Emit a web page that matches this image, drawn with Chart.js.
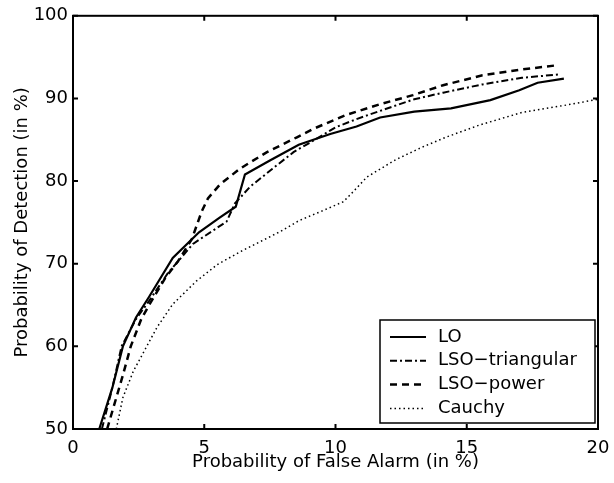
<!DOCTYPE html>
<html>
<head>
<meta charset="utf-8">
<script src="https://cdn.jsdelivr.net/npm/chart.js@4.4.0/dist/chart.umd.min.js"></script>
<style>
  html, body { margin: 0; padding: 0; background: #fff; }
  #wrap { width: 614px; height: 483px; }
</style>
</head>
<body>
<div id="wrap"><canvas id="roc" width="614" height="483"></canvas></div>
<script>
// ROC curves: detection vs false alarm (both in %)
const xTicks = [0, 5, 10, 15, 20];
const yTicks = [50, 60, 70, 80, 90, 100];
const seriesNames = ['LO', 'LSO\u2212triangular', 'LSO\u2212power', 'Cauchy'];

const loX = [1.0, 1.5, 1.9, 2.4, 2.9, 3.8, 4.8, 5.6, 6.2, 6.55, 7.5, 8.6, 9.8, 10.8, 11.7, 13.0, 14.4, 15.9, 17.0, 17.7, 18.7];
const loY = [50, 55, 60, 63.5, 66, 70.7, 73.8, 75.6, 76.9, 80.8, 82.5, 84.4, 85.7, 86.6, 87.7, 88.4, 88.8, 89.8, 91.0, 91.9, 92.4];

const triX = [1.1, 1.5, 1.85, 2.4, 2.9, 3.6, 4.57, 5.85, 6.17, 6.74, 7.6, 8.4, 9.0, 10.0, 10.8, 11.7, 13.0, 14.1, 15.6, 17.1, 18.5];
const triY = [50, 55, 60, 63.3, 65.5, 68.8, 72.4, 75.1, 77.3, 79.3, 81.5, 83.5, 84.6, 86.5, 87.5, 88.5, 89.9, 90.7, 91.7, 92.5, 92.9];

const powX = [1.3, 1.9, 2.2, 2.6, 2.9, 3.5, 4.0, 4.53, 4.9, 5.14, 5.6, 6.36, 7.39, 8.53, 9.14, 10.4, 11.7, 12.95, 14.1, 15.6, 17.1, 18.4];
const powY = [50, 56.5, 60, 63.3, 65, 68.2, 70.3, 73.0, 76.3, 77.9, 79.6, 81.5, 83.5, 85.3, 86.3, 88.0, 89.3, 90.4, 91.6, 92.8, 93.5, 94.0];

const cauX = [1.65, 1.9, 2.3, 3.2, 3.8, 4.7, 5.5, 6.4, 7.9, 8.6, 9.5, 10.3, 10.7, 11.2, 12.3, 13.3, 14.2, 15.5, 17.1, 18.8, 20];
const cauY = [50, 53.8, 57, 62.3, 65.1, 67.9, 69.9, 71.5, 73.9, 75.2, 76.4, 77.5, 78.8, 80.5, 82.6, 84.1, 85.3, 86.8, 88.3, 89.2, 89.9];

const FONT = '"DejaVu Sans", Verdana, sans-serif';

function pts(xs, ys) {
  return xs.map((x, i) => ({ x: x, y: ys[i] }));
}

// matlab style box with inward ticks on all four sides
const boxPlugin = {
  id: 'box',
  afterDatasetsDraw(chart) {
    const { ctx, chartArea: a, scales } = chart;
    ctx.save();
    ctx.strokeStyle = '#000';
    ctx.lineWidth = 2;
    ctx.strokeRect(a.left, a.top, a.right - a.left, a.bottom - a.top);
    const len = 5;
    ctx.beginPath();
    xTicks.forEach(v => {
      const px = scales.x.getPixelForValue(v);
      ctx.moveTo(px, a.bottom); ctx.lineTo(px, a.bottom - len);
      ctx.moveTo(px, a.top); ctx.lineTo(px, a.top + len);
    });
    yTicks.forEach(v => {
      const py = scales.y.getPixelForValue(v);
      ctx.moveTo(a.left, py); ctx.lineTo(a.left + len, py);
      ctx.moveTo(a.right, py); ctx.lineTo(a.right - len, py);
    });
    ctx.stroke();
    ctx.restore();
  }
};

// legend box in the lower right corner of the axes
const legendPlugin = {
  id: 'boxLegend',
  afterDraw(chart) {
    const { ctx, chartArea: a } = chart;
    const w = 215, h = 103;
    const left = a.right - 218, top = a.bottom - 109;
    ctx.save();
    ctx.fillStyle = '#fff';
    ctx.fillRect(left, top, w, h);
    ctx.strokeStyle = '#000';
    ctx.lineWidth = 1.5;
    ctx.setLineDash([]);
    ctx.strokeRect(left, top, w, h);
    ctx.font = '18px ' + FONT;
    ctx.textBaseline = 'middle';
    ctx.fillStyle = '#000';
    chart.data.datasets.forEach((ds, i) => {
      const y = top + 17 + i * 23.8;
      ctx.beginPath();
      ctx.lineWidth = ds.borderWidth;
      ctx.setLineDash(ds.borderDash || []);
      ctx.moveTo(left + 10, y);
      ctx.lineTo(left + 46, y);
      ctx.stroke();
      ctx.setLineDash([]);
      ctx.fillText(ds.label, left + 58, y);
    });
    ctx.restore();
  }
};

const datasets = [
  { label: seriesNames[0], data: pts(loX, loY), borderWidth: 2.2, borderDash: [] },
  { label: seriesNames[1], data: pts(triX, triY), borderWidth: 2, borderDash: [7, 3, 2, 3] },
  { label: seriesNames[2], data: pts(powX, powY), borderWidth: 2.5, borderDash: [7, 5] },
  { label: seriesNames[3], data: pts(cauX, cauY), borderWidth: 1.5, borderDash: [1.5, 3] }
].map(d => Object.assign(d, {
  borderColor: '#000', backgroundColor: '#000', showLine: true,
  pointRadius: 0, tension: 0, fill: false
}));

new Chart(document.getElementById('roc'), {
  type: 'scatter',
  data: { datasets },
  options: {
    responsive: false,
    animation: false,
    layout: { padding: { left: 0, right: 16, top: 13, bottom: 0 } },
    plugins: { legend: { display: false }, tooltip: { enabled: false } },
    scales: {
      x: {
        type: 'linear', min: 0, max: 20,
        afterBuildTicks: s => { s.ticks = xTicks.map(v => ({ value: v })); },
        afterFit: s => { s.height = 54; s.paddingLeft = 0; s.paddingRight = 0; },
        grid: { display: false, drawTicks: false },
        border: { display: false },
        ticks: { color: '#000', padding: 9, font: { family: FONT, size: 18 } },
        title: { display: true, text: 'Probability of False Alarm (in %)', color: '#000',
                 padding: { top: 0, bottom: 10 }, font: { family: FONT, size: 18 } }
      },
      y: {
        type: 'linear', min: 50, max: 100,
        afterBuildTicks: s => { s.ticks = yTicks.map(v => ({ value: v })); },
        afterFit: s => { s.width = 73; },
        grid: { display: false, drawTicks: false },
        border: { display: false },
        ticks: { color: '#000', padding: 5, font: { family: FONT, size: 18 } },
        title: { display: true, text: 'Probability of Detection (in %)', color: '#000',
                 padding: { top: 12, bottom: 0 }, font: { family: FONT, size: 18 } }
      }
    }
  },
  plugins: [boxPlugin, legendPlugin]
});
</script>
</body>
</html>
